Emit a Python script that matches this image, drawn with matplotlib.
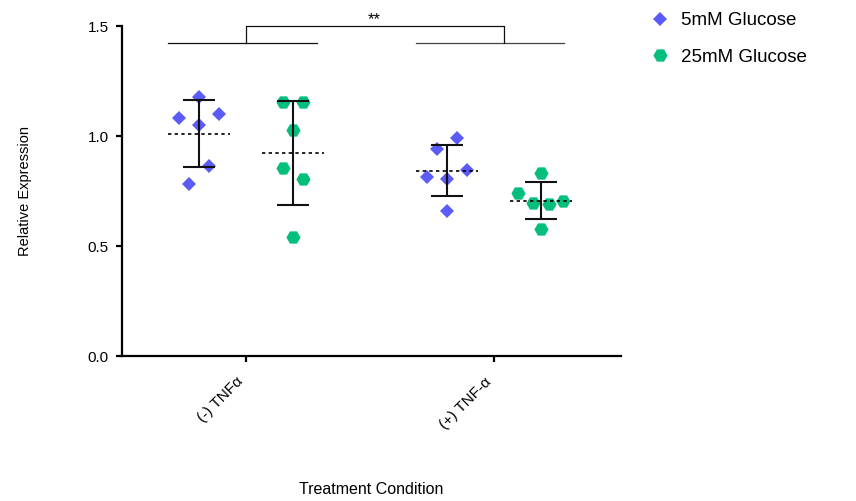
import numpy as np
import matplotlib
matplotlib.use("Agg")
import matplotlib.pyplot as plt

plt.rcParams['font.family'] = ['Liberation Sans', 'DejaVu Sans']

# ---- data ----
conditions = ["(-) TNFα", "(+) TNF-α"]
series_names = ["5mM Glucose", "25mM Glucose"]

glc5_neg = [1.176, 1.083, 1.100, 1.050, 0.864, 0.782]
glc5_pos = [0.989, 0.941, 0.845, 0.812, 0.803, 0.659]
glc25_neg = [1.155, 1.155, 1.027, 0.856, 0.803, 0.542]
glc25_pos = [0.833, 0.742, 0.694, 0.689, 0.706, 0.576]

y_ticks = [0.0, 0.5, 1.0, 1.5]
y_tick_labels = ["0.0", "0.5", "1.0", "1.5"]
significance = "**"

# ---- layout ----
group_offset = 0.19          # distance of each series from the category tick
jitter_step = 0.04           # horizontal spread of overlapping points
jitter = {
    ("5", 0): [0, -2, 2, 0, 1, -1],
    ("5", 1): [1, -1, 2, -2, 0, 0],
    ("25", 0): [-1, 1, 0, -1, 1, 0],
    ("25", 1): [0, -2.35, -0.85, 0.75, 2.25, 0],
}
mean_half = 0.125
colors = {"5": "#5B5BF7", "25": "#04BE7C"}

fig = plt.figure(figsize=(8.56, 5.01), dpi=100)
ax = fig.add_axes([0.1425, 0.2894, 0.583, 0.6587])

groups = [
    ("5", 0, glc5_neg), ("5", 1, glc5_pos),
    ("25", 0, glc25_neg), ("25", 1, glc25_pos),
]
labelled = set()
for key, ci, vals in groups:
    vals = np.asarray(vals)
    cx = ci + (-group_offset if key == "5" else group_offset)
    xs = cx + np.asarray(jitter[(key, ci)]) * jitter_step
    marker = "D" if key == "5" else "H"
    ms = 7.3 if key == "5" else 10.2
    label = series_names[0] if key == "5" else series_names[1]
    ax.plot(xs, vals, linestyle="none", marker=marker, markersize=ms,
            markerfacecolor=colors[key], markeredgewidth=0,
            label=None if key in labelled else label, zorder=3)
    labelled.add(key)
    m = vals.mean()
    sd = vals.std(ddof=1)
    ax.plot([cx - mean_half, cx + mean_half], [m, m], color="black", lw=1.2,
            dashes=(2, 2), zorder=4)
    ax.errorbar([cx], [m], yerr=[sd], fmt="none", ecolor="#111111",
                elinewidth=1.5, capsize=11.2, capthick=1.5, zorder=5)

# significance bracket between the two treatment conditions
ax.plot([-0.315, 0.286], [1.421, 1.421], color="#111111", lw=0.9, clip_on=False)
ax.plot([0.685, 1.282], [1.421, 1.421], color="#444444", lw=0.9, clip_on=False)
ax.plot([0.0, 0.0, 1.04, 1.04], [1.421, 1.501, 1.501, 1.421],
        color="#111111", lw=0.9, clip_on=False)
ax.text(0.515, 1.53, significance, ha="center", va="center", fontsize=12)

ax.set_xlim(-0.5, 1.512)
ax.set_ylim(0, 1.5)
ax.set_yticks(y_ticks)
ax.set_yticklabels(y_tick_labels)
ax.set_xticks([0, 1])
ax.set_xticklabels(conditions, rotation=45, ha="right", rotation_mode="default")

for side in ("top", "right"):
    ax.spines[side].set_visible(False)
for side in ("left", "bottom"):
    ax.spines[side].set_linewidth(1.6)
ax.tick_params(width=1.6, length=4.5, labelsize=11, colors="black")
ax.tick_params(axis="y", pad=5)
ax.tick_params(axis="x", pad=9)

ax.set_ylabel("Relative Expression", fontsize=10.5)
ax.yaxis.set_label_coords(-0.18, 0.5)
ax.set_xlabel("Treatment Condition", fontsize=11.5, va="center")
ax.xaxis.set_label_coords(0.5, -0.406)

fig.legend(loc="upper left", bbox_to_anchor=(0.760, 0.976), frameon=False,
           fontsize=13.5, handlelength=1.0, handletextpad=0.6, labelspacing=1.05,
           borderpad=0, borderaxespad=0)

fig.savefig("out.png", dpi=100)
